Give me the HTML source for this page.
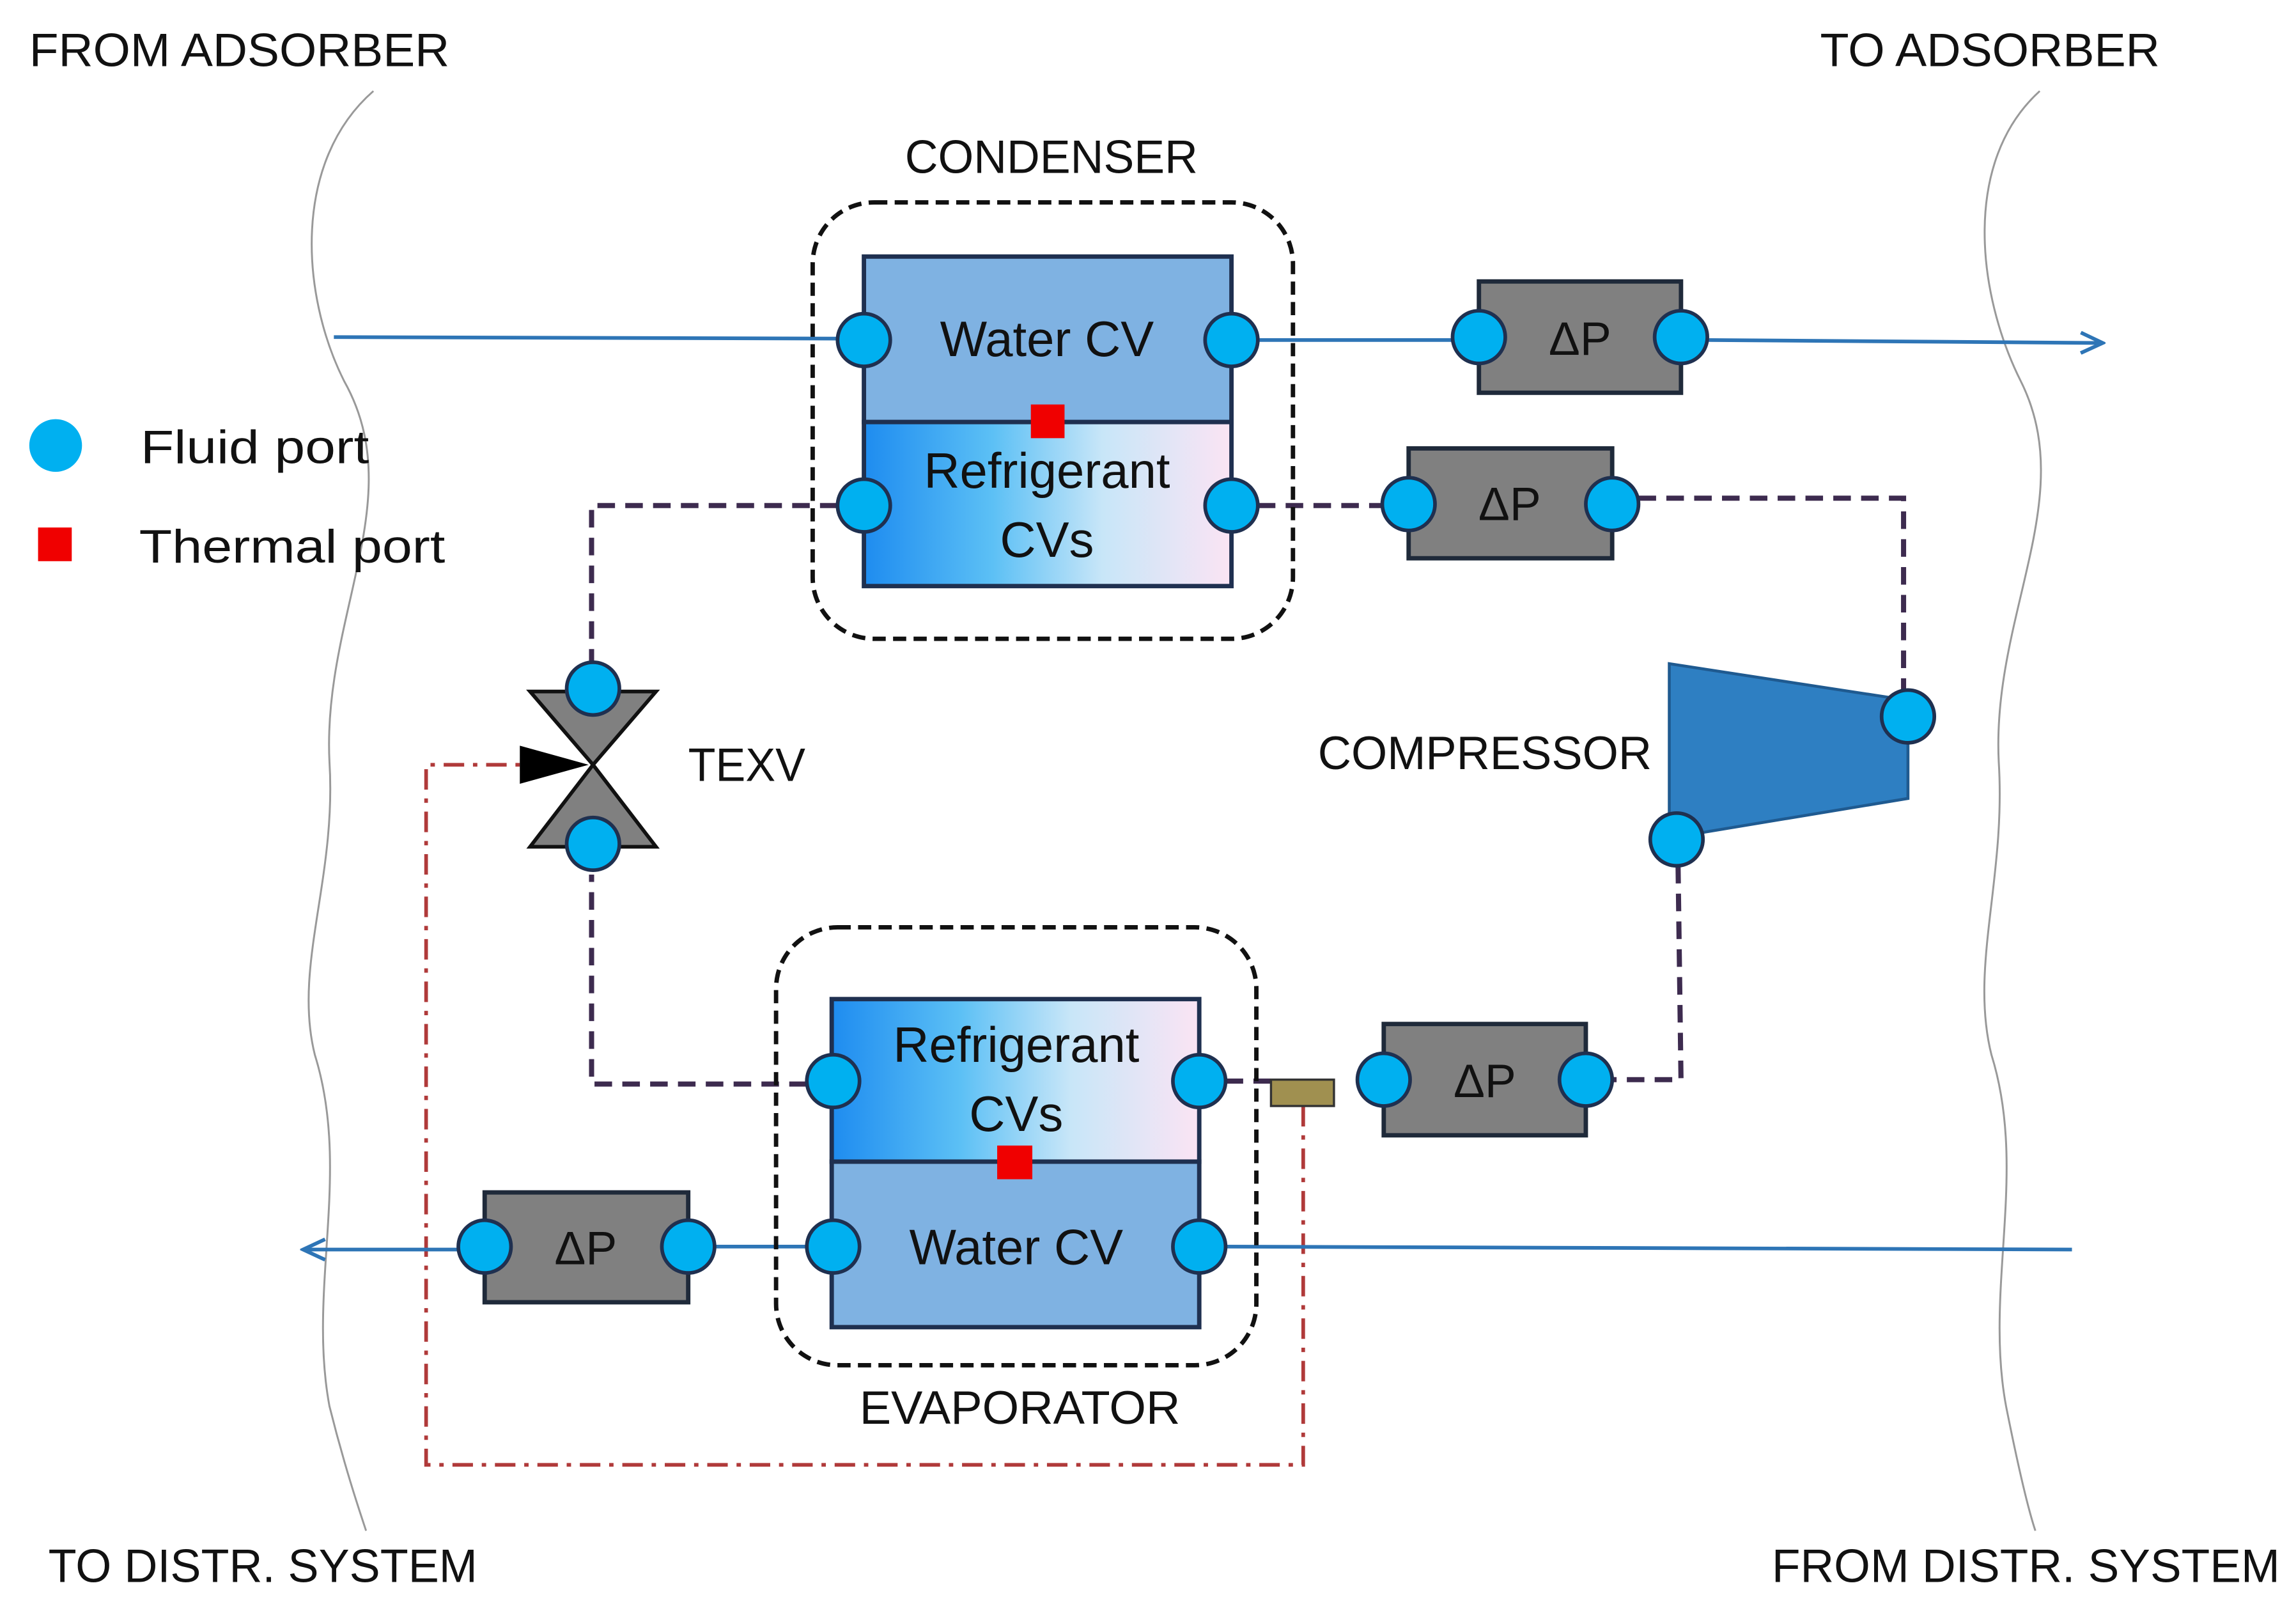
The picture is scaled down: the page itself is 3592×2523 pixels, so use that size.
<!DOCTYPE html>
<html><head><meta charset="utf-8"><style>
html,body{margin:0;padding:0;background:#fff;}
svg{display:block;}
text{font-family:"Liberation Sans",sans-serif;fill:#111;}
</style></head><body>
<svg width="3592" height="2523" viewBox="0 0 1568 1101" xmlns="http://www.w3.org/2000/svg">
<defs>
<linearGradient id="rg" x1="0" x2="1" y1="0" y2="0">
<stop offset="0" stop-color="#1E8CF0"/><stop offset="0.35" stop-color="#5CC0F5"/><stop offset="0.65" stop-color="#C8E6F8"/><stop offset="1" stop-color="#FBE4F4"/>
</linearGradient>
<marker id="ar" markerWidth="18" markerHeight="16" refX="16" refY="8" orient="auto" markerUnits="userSpaceOnUse">
<path d="M1,1 L16,8 L1,15" fill="none" stroke="#2E75B6" stroke-width="2.5"/>
</marker>
</defs>
<rect width="1568" height="1101" fill="#fff"/>
<path d="M255,62 C200,110 205,200 235,260 C280,340 220,420 225,520 C230,600 200,660 215,720 C240,800 210,880 225,960 C235,1000 245,1030 250,1045" fill="none" stroke="#999" stroke-width="1.3"/>
<path d="M1393,62 C1340,110 1350,200 1380,260 C1420,340 1360,420 1365,520 C1370,600 1345,660 1360,720 C1385,800 1355,880 1370,960 C1378,1000 1385,1030 1390,1045" fill="none" stroke="#999" stroke-width="1.3"/>
<g font-size="32">
<text x="20" y="45" textLength="287" lengthAdjust="spacingAndGlyphs">FROM ADSORBER</text>
<text x="1243" y="45" textLength="232" lengthAdjust="spacingAndGlyphs">TO ADSORBER</text>
<text x="33" y="1080" textLength="293" lengthAdjust="spacingAndGlyphs">TO DISTR. SYSTEM</text>
<text x="1210" y="1080" textLength="347" lengthAdjust="spacingAndGlyphs">FROM DISTR. SYSTEM</text>
<text x="618" y="118" textLength="200" lengthAdjust="spacingAndGlyphs">CONDENSER</text>
<text x="587" y="972" textLength="219" lengthAdjust="spacingAndGlyphs">EVAPORATOR</text>
<text x="470" y="533" textLength="80" lengthAdjust="spacingAndGlyphs">TEXV</text>
<text x="900" y="525" textLength="228" lengthAdjust="spacingAndGlyphs">COMPRESSOR</text>
<text x="96" y="316" textLength="156" lengthAdjust="spacingAndGlyphs">Fluid port</text>
<text x="95" y="384" textLength="209" lengthAdjust="spacingAndGlyphs">Thermal port</text>
</g>
<circle cx="38" cy="304" r="18" fill="#00B0F0"/>
<rect x="26" y="360" width="23" height="23" fill="#F00000"/>
<g fill="none" stroke="#3D2B4F" stroke-width="3.5" stroke-dasharray="12,7">
<path d="M572,345 L404,345 L404,455"/>
<path d="M859,345 L945,345"/>
<path d="M1119,340 L1300,340 L1300,472"/>
<path d="M1146,591 L1148,737 L1100,737"/>
<path d="M551,740 L404,740 L404,597"/>
<path d="M837,738 L868,738"/>
</g>
<path d="M890,755 L890,1000 L291,1000 L291,522 L355,522" fill="none" stroke="#B03A3A" stroke-width="2.5" stroke-dasharray="14,6,3,6"/>
<g stroke="#2E75B6" stroke-width="2.5" fill="none">
<path d="M228,230 L572,231"/>
<path d="M859,232 L992,232"/>
<path d="M1166,232 L1436,234" marker-end="url(#ar)"/>
<path d="M1415,853 L837,851"/>
<path d="M551,851 L489,851"/>
<path d="M313,853 L207,853" marker-end="url(#ar)"/>
</g>
<rect x="555" y="138" width="328" height="298" rx="42" fill="none" stroke="#111" stroke-width="3" stroke-dasharray="9,5"/>
<rect x="590" y="175" width="251" height="113" fill="#7FB2E2" stroke="#1F3050" stroke-width="3"/>
<rect x="590" y="288" width="251" height="112" fill="url(#rg)" stroke="#1F3050" stroke-width="3"/>
<text x="715" y="243" font-size="34" text-anchor="middle">Water CV</text>
<text x="715" y="333" font-size="34" text-anchor="middle">Refrigerant</text>
<text x="715" y="380" font-size="34" text-anchor="middle">CVs</text>
<rect x="704" y="276" width="23" height="23" fill="#F00000"/>
<rect x="530" y="633" width="328" height="299" rx="42" fill="none" stroke="#111" stroke-width="3" stroke-dasharray="9,5"/>
<rect x="568" y="682" width="251" height="111" fill="url(#rg)" stroke="#1F3050" stroke-width="3"/>
<rect x="568" y="793" width="251" height="113" fill="#7FB2E2" stroke="#1F3050" stroke-width="3"/>
<text x="694" y="725" font-size="34" text-anchor="middle">Refrigerant</text>
<text x="694" y="772" font-size="34" text-anchor="middle">CVs</text>
<text x="694" y="863" font-size="34" text-anchor="middle">Water CV</text>
<rect x="681" y="782" width="24" height="23" fill="#F00000"/>
<rect x="868" y="737" width="43" height="18" fill="#A09050" stroke="#333" stroke-width="1.5"/>
<g fill="#808080" stroke="#1F2A3A" stroke-width="3">
<rect x="1010" y="192" width="138" height="76"/>
<rect x="962" y="306" width="139" height="75"/>
<rect x="945" y="699" width="138" height="76"/>
<rect x="331" y="814" width="139" height="75"/>
</g>
<g font-size="32" text-anchor="middle">
<text x="1079" y="242">ΔP</text>
<text x="1031" y="355">ΔP</text>
<text x="1014" y="749">ΔP</text>
<text x="400" y="863">ΔP</text>
</g>
<polygon points="1140,453 1303,478 1303,545 1140,572" fill="#2E7FC2" stroke="#1F5A90" stroke-width="2"/>
<polygon points="362,472 448,472 405,522" fill="#808080" stroke="#111" stroke-width="2.5"/>
<polygon points="362,578 448,578 405,522" fill="#808080" stroke="#111" stroke-width="2.5"/>
<polygon points="355,509 355,535 402,522" fill="#000"/>
<g fill="#00B0F0" stroke="#1F3050" stroke-width="2.5">
<circle cx="590" cy="232" r="18"/><circle cx="841" cy="232" r="18"/>
<circle cx="590" cy="345" r="18"/><circle cx="841" cy="345" r="18"/>
<circle cx="1010" cy="230" r="18"/><circle cx="1148" cy="230" r="18"/>
<circle cx="962" cy="344" r="18"/><circle cx="1101" cy="344" r="18"/>
<circle cx="1303" cy="489" r="18"/><circle cx="1145" cy="573" r="18"/>
<circle cx="945" cy="737" r="18"/><circle cx="1083" cy="737" r="18"/>
<circle cx="569" cy="738" r="18"/><circle cx="819" cy="738" r="18"/>
<circle cx="569" cy="851" r="18"/><circle cx="819" cy="851" r="18"/>
<circle cx="331" cy="851" r="18"/><circle cx="470" cy="851" r="18"/>
<circle cx="405" cy="470" r="18"/><circle cx="405" cy="576" r="18"/>
</g>
</svg>
</body></html>
